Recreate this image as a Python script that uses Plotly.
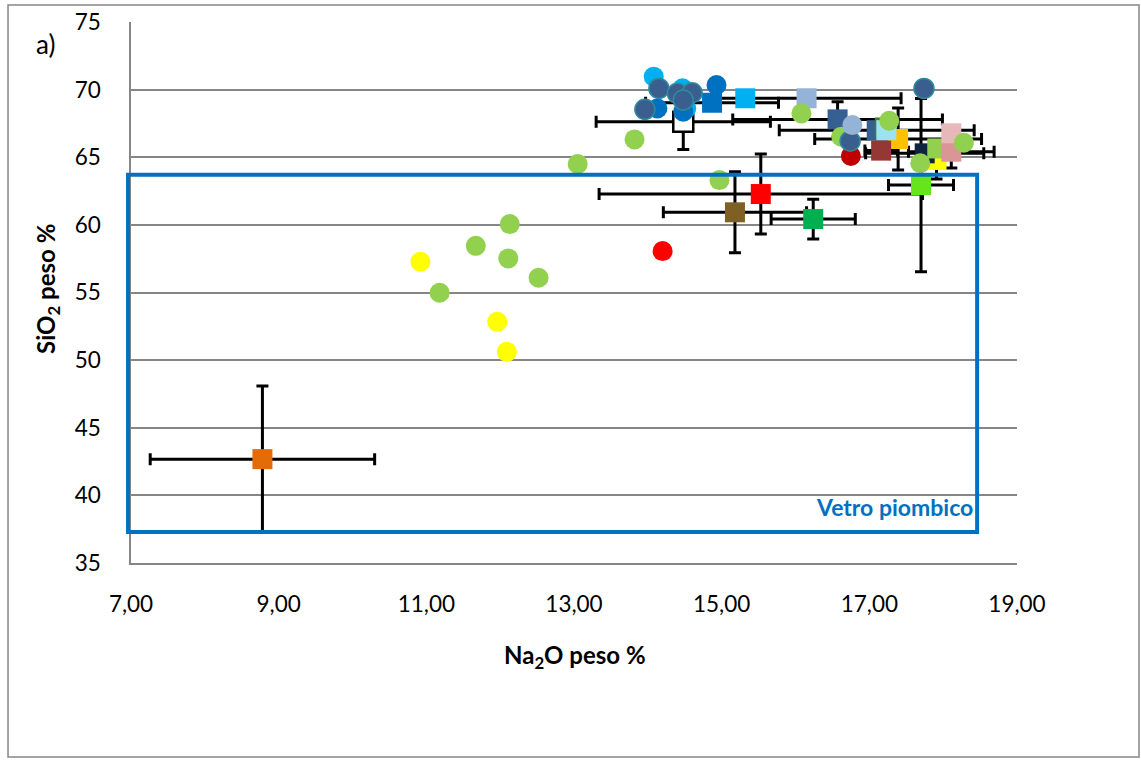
import plotly.graph_objects as go

# ---------------- data ----------------
x_ticks = [7, 9, 11, 13, 15, 17, 19]
x_tick_labels = ["7,00", "9,00", "11,00", "13,00", "15,00", "17,00", "19,00"]
y_ticks = [35, 40, 45, 50, 55, 60, 65, 70, 75]

# squares with error bars (drawing order)
sq_x = [8.78, 15.53, 15.18, 16.24, 17.70, 14.48, 14.87, 15.32, 16.15, 16.57, 17.10, 17.21, 17.39, 17.23, 17.16, 17.91, 17.75, 17.92, 18.11, 18.11]
sq_y = [42.68, 62.28, 60.93, 60.43, 62.94, 67.63, 69.03, 69.36, 69.36, 67.80, 67.00, 67.20, 66.35, 67.00, 65.49, 64.80, 65.29, 65.65, 65.41, 66.77]
sq_xerr = [1.52, 2.19, 0.97, 0.57, 0.44, 1.18, 0.90, 0.0, 1.28, 1.42, 1.32, 0.0, 1.13, 0.0, 0.22, 0.0, 0.80, 0.0, 0.58, 0.0]
sq_yerr = [5.40, 2.96, 3.00, 1.47, 6.40, 2.05, 0.0, 0.0, 0.0, 1.30, 0.0, 0.0, 2.30, 0.0, 0.0, 1.40, 0.0, 0.0, 1.20, 0.0]
sq_colors = ["#E36C09", "#FF0000", "#7F6024", "#00B050", "#66E61A", "#FFFFFF", "#0070C0", "#00B0F0",
             "#95B3D7", "#376092", "#376092", "#3F7F2A", "#FFC000", "#9BE2F4", "#953735", "#FFFF00",
             "#0F243E", "#92D050", "#D99694", "#E6B9B8"]
sq_line_w = [0, 0, 0, 0, 0, 2.5, 0, 0, 0, 0, 0, 0, 0, 0, 0, 0, 0, 0, 0, 0]

yellow_x = [10.92, 11.96, 12.09]
yellow_y = [57.27, 52.83, 50.61]

green_x = [11.18, 11.67, 12.13, 12.11, 12.52, 13.05, 13.82, 14.97, 16.08, 16.62, 17.27, 17.69, 18.28]
green_y = [54.98, 58.45, 60.06, 57.52, 56.09, 64.50, 66.32, 63.31, 68.24, 66.52, 67.70, 64.56, 66.07]

red_x = [14.20]
red_y = [58.06]

darkred_x = [16.75]
darkred_y = [65.09]

lightblue_x = [14.08, 14.47, 14.52]
lightblue_y = [70.96, 70.10, 68.60]

blue_x = [14.13, 14.93, 14.48]
blue_y = [68.61, 70.34, 68.37]

slate_x = [14.15, 13.96, 14.40, 14.60, 14.48, 16.74, 17.74]
slate_y = [70.09, 68.54, 69.73, 69.77, 69.23, 66.20, 70.09]

steel_x = [16.77]
steel_y = [67.38]

# lead-glass field and its label
box_x = [6.96, 18.46]
box_y = [37.3, 63.7]
box_label = "Vetro piombico"

X_RANGE = [7, 19]
Y_RANGE = [35, 75]

# ---------------- figure ----------------
fig = go.Figure()

fig.add_trace(go.Scatter(
    x=sq_x, y=sq_y, mode="markers",
    marker=dict(symbol="square", size=20, color=sq_colors,
                line=dict(color="#000000", width=sq_line_w)),
    error_x=dict(type="data", array=sq_xerr, color="#000000", thickness=3, width=6),
    error_y=dict(type="data", array=sq_yerr, color="#000000", thickness=3, width=6),
    cliponaxis=False, hoverinfo="skip", showlegend=False))

def circles(xs, ys, color, line_color=None, line_w=0):
    fig.add_trace(go.Scatter(
        x=xs, y=ys, mode="markers",
        marker=dict(symbol="circle", size=20, color=color,
                    line=dict(color=line_color or color, width=line_w)),
        hoverinfo="skip", showlegend=False))

circles(yellow_x, yellow_y, "#FFFF00")
circles(green_x, green_y, "#92D050")
circles(red_x, red_y, "#FF0000")
circles(darkred_x, darkred_y, "#C00000")
circles(lightblue_x, lightblue_y, "#00B0F0")
circles(blue_x, blue_y, "#0070C0")
circles(slate_x, slate_y, "#3A5F8F", "#2F8A9C", 1.5)
circles(steel_x, steel_y, "#95B3D7")

def px_x(v):
    return (v - X_RANGE[0]) / (X_RANGE[1] - X_RANGE[0])

fig.add_shape(type="rect", xref="paper", yref="y",
              x0=px_x(box_x[0]), x1=px_x(box_x[1]), y0=box_y[0], y1=box_y[1],
              line=dict(color="#0070C0", width=4), layer="above")

fig.add_annotation(x=box_x[1] - 0.03, y=39.15, xref="x", yref="y", text="<b>" + box_label + "</b>",
                   showarrow=False, xanchor="right", yanchor="middle",
                   font=dict(family="Lato", size=23, color="#0070C0"))

# outer chart border
fig.add_shape(type="rect", xref="paper", yref="paper",
              x0=-0.1388, x1=1.1377, y0=-0.3586, y1=1.0314,
              line=dict(color="#868686", width=1.5), layer="above")

fig.add_annotation(x=-0.097, y=0.959, xref="paper", yref="paper", text="a)",
                   showarrow=False, xanchor="center", yanchor="middle",
                   font=dict(family="Lato", size=26, color="#000000"))
fig.add_annotation(x=0.501, y=-0.172, xref="paper", yref="paper",
                   text="<b>Na<sub>2</sub>O peso %</b>", showarrow=False,
                   xanchor="center", yanchor="middle",
                   font=dict(family="Lato", size=24, color="#000000"))
fig.add_annotation(x=-0.094, y=0.506, xref="paper", yref="paper",
                   text="<b>SiO<sub>2</sub> peso %</b>", showarrow=False, textangle=-90,
                   xanchor="center", yanchor="middle",
                   font=dict(family="Lato", size=24, color="#000000"))

fig.update_layout(
    width=1141, height=760,
    margin=dict(l=131, r=124, t=22, b=197, autoexpand=False),
    paper_bgcolor="#FFFFFF", plot_bgcolor="#FFFFFF",
    font=dict(family="Lato", size=22.5, color="#000000"),
    xaxis=dict(range=X_RANGE, tickvals=x_ticks, ticktext=x_tick_labels,
               showgrid=False, zeroline=False, showline=True, linecolor="#868686",
               linewidth=1.5, ticks="", ticklabelstandoff=20),
    yaxis=dict(range=Y_RANGE, tickvals=y_ticks, showgrid=True, gridcolor="#868686",
               gridwidth=1.5, zeroline=False, showline=True, linecolor="#868686",
               linewidth=1.5, ticks="", ticklabelstandoff=24),
)

fig.write_html("out.html")
